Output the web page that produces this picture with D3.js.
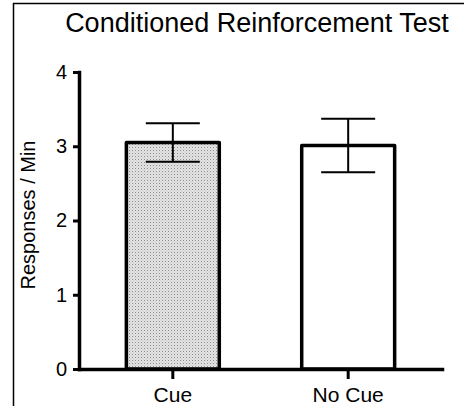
<!DOCTYPE html>
<html>
<head>
<meta charset="utf-8">
<script src="https://cdn.jsdelivr.net/npm/d3@7"></script>
<style>
body { margin: 0; background: #fff; }
text { font-family: Arial, "Liberation Sans", sans-serif; fill: #000; }
</style>
</head>
<body>
<svg></svg>
<script>
var width = 464, height = 406;

// data
var categories = ["Cue", "No Cue"];
var means = [3.05, 3.01];
var sems = [0.26, 0.36];
var yTicks = [0, 1, 2, 3, 4];

var svg = d3.select("svg")
	.attr("width", width)
	.attr("height", height);

// stipple fill for the Cue bar
var pat = svg.append("defs").append("pattern")
	.attr("id", "dots")
	.attr("width", 3)
	.attr("height", 3)
	.attr("patternUnits", "userSpaceOnUse");
pat.append("rect").attr("width", 3).attr("height", 3).attr("fill", "#e4e4e4");
pat.append("rect").attr("width", 1).attr("height", 1).attr("fill", "#8a8a8a");
pat.append("rect").attr("x", 1.5).attr("y", 1.5).attr("width", 1).attr("height", 1).attr("fill", "#b8b8b8");

// frame edges
svg.append("line")
	.attr("x1", 13.5).attr("x2", 13.5).attr("y1", 3).attr("y2", height)
	.attr("stroke", "#000").attr("stroke-width", 1.5);
svg.append("line")
	.attr("x1", 13).attr("x2", width).attr("y1", 3.5).attr("y2", 3.5)
	.attr("stroke", "#000").attr("stroke-width", 1.5);

var x = d3.scaleBand()
	.domain(categories)
	.range([79, 442])
	.paddingInner(0.47)
	.paddingOuter(0.27);

var y = d3.scaleLinear()
	.domain([0, 4])
	.range([369, 72]);

svg.append("text")
	.attr("x", 257)
	.attr("y", 32)
	.attr("text-anchor", "middle")
	.style("font-size", "27px")
	.text("Conditioned Reinforcement Test");

svg.append("text")
	.attr("transform", "translate(35,215) rotate(-90)")
	.attr("text-anchor", "middle")
	.style("font-size", "20px")
	.text("Responses / Min");

// bars
svg.append("g")
	.selectAll("rect")
	.data(categories)
	.enter()
	.append("rect")
	.attr("x", function(d) { return x(d); })
	.attr("y", function(d, i) { return y(means[i]); })
	.attr("width", x.bandwidth())
	.attr("height", function(d, i) { return y(0) - y(means[i]); })
	.attr("fill", function(d, i) { return i == 0 ? "url(#dots)" : "#fff"; })
	.attr("stroke", "#000")
	.attr("stroke-width", 3.5)
	.attr("stroke-linejoin", "round");

// error bars
var err = svg.append("g")
	.attr("stroke", "#000")
	.attr("stroke-width", 2)
	.selectAll("g")
	.data(categories)
	.enter()
	.append("g")
	.attr("transform", function(d) { return "translate(" + (x(d) + x.bandwidth() / 2) + ",0)"; });
err.append("line")
	.attr("y1", function(d, i) { return y(means[i] + sems[i]); })
	.attr("y2", function(d, i) { return y(means[i] - sems[i]); });
err.append("line")
	.attr("x1", -27).attr("x2", 27)
	.attr("y1", function(d, i) { return y(means[i] + sems[i]); })
	.attr("y2", function(d, i) { return y(means[i] + sems[i]); });
err.append("line")
	.attr("x1", -27).attr("x2", 27)
	.attr("y1", function(d, i) { return y(means[i] - sems[i]); })
	.attr("y2", function(d, i) { return y(means[i] - sems[i]); });

// axes
var yAxis = svg.append("g")
	.attr("transform", "translate(79,0)")
	.call(d3.axisLeft(y).tickValues(yTicks).tickFormat(d3.format("d")).tickSize(6).tickPadding(6).tickSizeOuter(0));
yAxis.selectAll("text").style("font-size", "20px");

var xAxis = svg.append("g")
	.attr("transform", "translate(0,369)")
	.call(d3.axisBottom(x).tickSize(10).tickPadding(8).tickSizeOuter(0));
xAxis.selectAll("text").style("font-size", "21px");

svg.selectAll(".domain").attr("stroke-width", 3.5).attr("stroke-linecap", "square");
svg.selectAll(".tick line").attr("stroke-width", 3);
</script>
</body>
</html>
